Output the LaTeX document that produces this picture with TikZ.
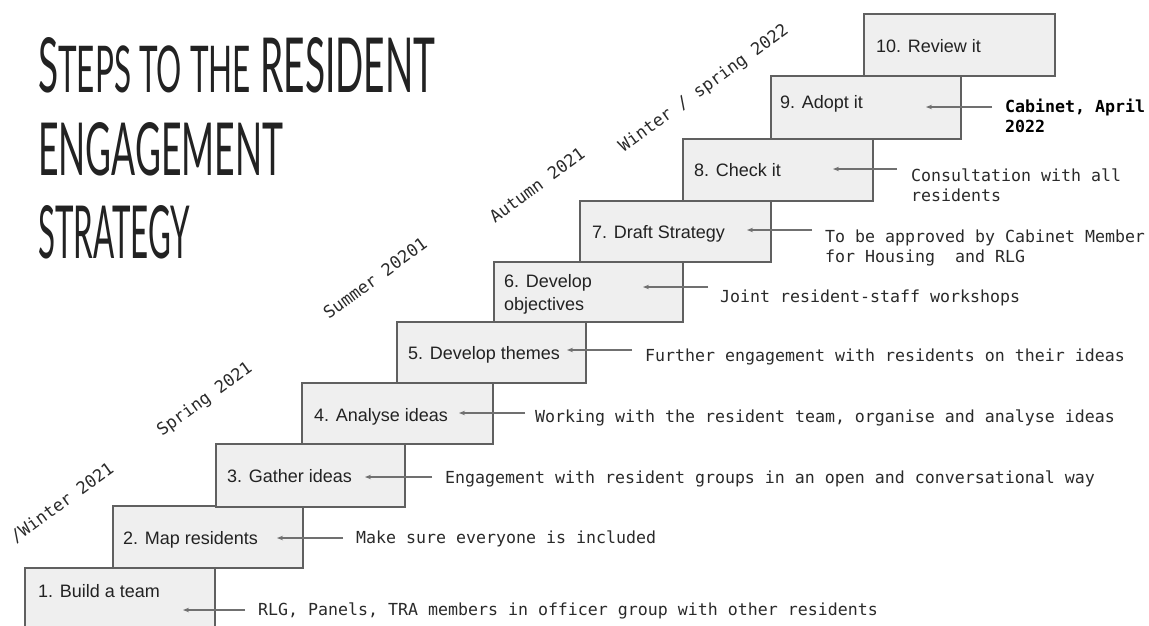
\documentclass[tikz,border=0pt]{standalone}
\usepackage{fontspec}
\setmainfont{Liberation Sans}
\newfontfamily\monofont{DejaVu Sans Mono}
\newfontfamily\titlefont{Lato}
\usepackage{graphicx}
\usetikzlibrary{arrows.meta}
\definecolor{boxfill}{HTML}{EFEFEF}
\definecolor{boxline}{HTML}{606060}
\definecolor{arrowgray}{HTML}{707070}
\definecolor{inktext}{HTML}{222222}
\definecolor{desctext}{HTML}{2A2A2A}
\tikzset{
  stepbox/.style={draw=boxline, fill=boxfill, line width=1.2pt, anchor=north west, inner sep=0pt, outer sep=0pt, minimum width=190pt, minimum height=62pt},
  steplabel/.style={font=\fontsize{18}{22}\selectfont, text=inktext, anchor=base west, inner sep=0pt, align=left},
  desc/.style={font=\monofont\fontsize{16.6}{20}\selectfont, text=desctext, anchor=base west, inner sep=0pt, align=left},
  datelabel/.style={font=\monofont\fontsize{17}{20}\selectfont, text=desctext, rotate=36, inner sep=0pt},
  titleline/.style={font=\titlefont\fontsize{80}{80}\selectfont, text=inktext, anchor=base west, inner sep=0pt},
  arr/.style={draw=arrowgray, line width=1.1pt, -{Stealth[length=6pt,width=4.5pt]}}
}
\begin{document}
\begin{tikzpicture}[x=1pt,y=-1pt]
\useasboundingbox (0,0) rectangle (1149,625);
\clip (0,0) rectangle (1149,625);
\fill[white] (0,0) rectangle (1149,625);

% title
\node[titleline] (title1) at (38,92) {\resizebox{397pt}{55pt}{S{\fontsize{68}{68}\selectfont TEPS TO THE} RESIDENT}};
\node[titleline] (title2) at (38,175) {\resizebox{245pt}{53pt}{ENGAGEMENT}};
\node[titleline] (title3) at (38,258) {\resizebox{152pt}{53pt}{STRATEGY}};

% boxes
\node[stepbox, minimum height=75pt] (b1) at (25,568) {};
\node[stepbox] (b2) at (113,506) {};
\node[stepbox, minimum width=189pt, minimum height=63pt] (b3) at (216,444) {};
\node[stepbox, minimum width=191pt, minimum height=61pt] (b4) at (302,383) {};
\node[stepbox, minimum width=189pt, minimum height=61pt] (b5) at (397,322) {};
\node[stepbox, minimum width=189pt, minimum height=60pt] (b6) at (494,262) {};
\node[stepbox, minimum width=191pt, minimum height=61pt] (b7) at (580,201) {};
\node[stepbox, minimum width=190pt, minimum height=62pt] (b8) at (683,139) {};
\node[stepbox, minimum width=190pt, minimum height=63pt] (b9) at (771,76) {};
\node[stepbox, minimum width=191pt, minimum height=62pt] (b10) at (864,14) {};

% box labels
\node[steplabel] (l1) at (38,597) {1. Build a team};
\node[steplabel] (l2) at (123,544) {2. Map residents};
\node[steplabel] (l3) at (227,482) {3. Gather ideas};
\node[steplabel] (l4) at (314,421) {4. Analyse ideas};
\node[steplabel] (l5) at (408,359) {5. Develop themes};
\node[steplabel, font=\fontsize{18}{23}\selectfont] (l6) at (504,310) {6. Develop\\objectives};
\node[steplabel] (l7) at (592,238) {7. Draft Strategy};
\node[steplabel] (l8) at (694,176) {8. Check it};
\node[steplabel] (l9) at (780,108) {9. Adopt it};
\node[steplabel] (l10) at (876,52) {10. Review it};

% descriptions
\node[desc] (d1) at (258,615) {RLG, Panels, TRA members in officer group with other residents};
\node[desc] (d2) at (356,543) {Make sure everyone is included};
\node[desc] (d3) at (445,483) {Engagement with resident groups in an open and conversational way};
\node[desc] (d4) at (535,422) {Working with the resident team, organise and analyse ideas};
\node[desc] (d5) at (645,361) {Further engagement with residents on their ideas};
\node[desc] (d6) at (720,302) {Joint resident-staff workshops};
\node[desc] (d7) at (825,262) {To be approved by Cabinet Member\\for Housing\ \ and RLG};
\node[desc] (d8) at (911,201) {Consultation with all\\residents};
\node[desc, font=\monofont\bfseries\fontsize{16.6}{20}\selectfont, text=black] (d9) at (1005,132) {Cabinet, April\\2022};

% arrow tips
\coordinate (p1) at (183,610);
\coordinate (p2) at (277,538);
\coordinate (p3) at (365,477);
\coordinate (p4) at (459,413);
\coordinate (p5) at (567,350);
\coordinate (p6) at (643,287);
\coordinate (p7) at (747,230);
\coordinate (p8) at (833,169);
\coordinate (p9) at (926,107);

\draw[arr] ([xshift=-13pt]d1.base west |- p1) -- (p1);
\draw[arr] ([xshift=-13pt]d2.base west |- p2) -- (p2);
\draw[arr] ([xshift=-13pt]d3.base west |- p3) -- (p3);
\draw[arr] ([xshift=-10pt]d4.base west |- p4) -- (p4);
\draw[arr] ([xshift=-13pt]d5.base west |- p5) -- (p5);
\draw[arr] ([xshift=-12pt]d6.base west |- p6) -- (p6);
\draw[arr] ([xshift=-13pt]d7.base west |- p7) -- (p7);
\draw[arr] ([xshift=-14pt]d8.base west |- p8) -- (p8);
\draw[arr] ([xshift=-13pt]d9.base west |- p9) -- (p9);

% date labels
\node[datelabel] (w21) at (62,503) {/Winter 2021};
\node[datelabel] (s21) at (205,400) {Spring 2021};
\node[datelabel] (su21) at (375,278) {Summer 20201};
\node[datelabel] (a21) at (537,185) {Autumn 2021};
\node[datelabel] (w22) at (704,89) {Winter / spring 2022};
\end{tikzpicture}
\end{document}
